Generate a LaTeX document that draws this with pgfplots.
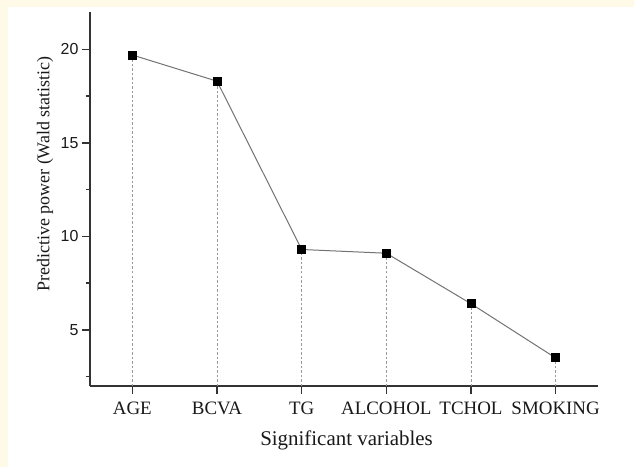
\documentclass[border=0pt]{standalone}
\usepackage{fontspec}
\setmainfont{Liberation Serif}
\newfontfamily\arialfont{Liberation Sans}
\usepackage{pgfplots}
\pgfplotsset{compat=1.18}
\definecolor{cream}{HTML}{FFFAE8}
\definecolor{axcol}{HTML}{333333}
\begin{document}
\begin{tikzpicture}
\fill[cream] (-90bp,-81bp) rectangle (544bp,386bp);
\fill[white] (-82bp,-81bp) rectangle (544bp,379bp);
\begin{axis}[
  at={(0,0)}, anchor=south west, scale only axis,
  width=508bp, height=374bp,
  xmin=-0.5, xmax=5.5, ymin=2, ymax=22,
  axis x line=bottom, axis y line=left,
  axis line style={axcol, line width=1.6bp, -},
  xtick={0,1,2,3,4,5},
  xticklabels={AGE,BCVA,TG,ALCOHOL,TCHOL,SMOKING},
  ytick={5,10,15,20}, minor ytick={2.5,7.5,12.5,17.5},
  tick align=outside, major tick length=8bp, minor tick length=4bp,
  tick style={axcol, line width=1.4bp},
  /pgf/number format/assume math mode=true,
  xticklabel style={font=\fontsize{19}{22}\selectfont, anchor=base, yshift=-20bp, text=black!90},
  yticklabel style={font=\arialfont\fontsize{16}{18}\selectfont, text=black!90},
  xlabel={Significant variables},
  ylabel={Predictive power (Wald statistic)},
  xlabel style={font=\fontsize{21}{24}\selectfont, at={(axis description cs:0.505,-0.1596)}, anchor=base, text=black!90},
  ylabel style={font=\fontsize{18}{21}\selectfont, at={(axis description cs:-0.0886,0.567)}, anchor=center, text=black!90},
]
\addplot[ycomb, draw=gray!80, dash pattern=on 2.5bp off 2bp, line width=0.9bp, no marks] coordinates {
  (0,19.7) (1,18.3) (2,9.3) (3,9.1) (4,6.4) (5,3.5)};
\addplot[draw=gray!90!black, line width=1bp, mark=square*, mark size=4bp, mark options={fill=black, draw=black, solid}] coordinates {
  (0,19.7) (1,18.3) (2,9.3) (3,9.1) (4,6.4) (5,3.5)};
\end{axis}
\pgfresetboundingbox
\useasboundingbox (-90bp,-81bp) rectangle (544bp,386bp);
\end{tikzpicture}
\end{document}
